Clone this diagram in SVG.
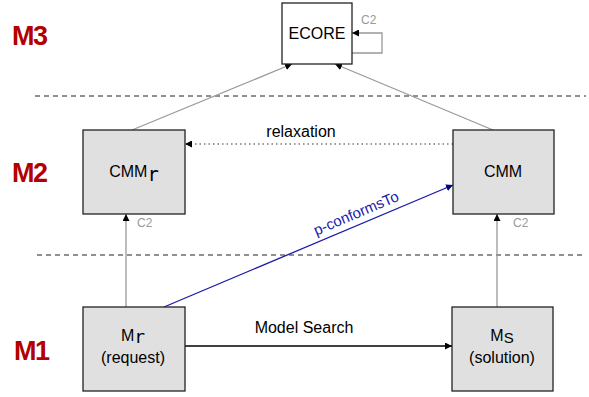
<svg xmlns="http://www.w3.org/2000/svg" width="589" height="397" viewBox="0 0 589 397">
<style>
.box{stroke:#222;stroke-width:1.3}
.t{font-family:"Liberation Sans",Arial,sans-serif;font-size:16px;fill:#000;text-anchor:middle}
.mono{font-family:"DejaVu Sans Mono","Liberation Mono",monospace}
.lvl{font-family:"Liberation Sans",Arial,sans-serif;font-size:27px;font-weight:bold;fill:#b30000;letter-spacing:-1.5px}
.c2{font-family:"Liberation Sans",Arial,sans-serif;font-size:12px;fill:#999}
.gray{stroke:#999;stroke-width:1.3;fill:none}
</style>
<defs>
<marker id="ab" viewBox="0 0 10 10" refX="10" refY="5" markerWidth="7" markerHeight="7" orient="auto" markerUnits="userSpaceOnUse"><path d="M0,0L10,5L0,10z" fill="#000"/></marker>
<marker id="au" viewBox="0 0 10 10" refX="10" refY="5" markerWidth="7" markerHeight="7" orient="auto" markerUnits="userSpaceOnUse"><path d="M0,0L10,5L0,10z" fill="#000080"/></marker>
</defs>
<rect width="589" height="397" fill="#fff"/>
<g id="levels">
<text class="lvl" x="12" y="45">M3</text>
<text class="lvl" x="12" y="182">M2</text>
<text class="lvl" x="14" y="360">M1</text>
<line x1="35" y1="96" x2="586" y2="96" stroke="#222" stroke-dasharray="5,4"/>
<line x1="37" y1="255" x2="586" y2="255" stroke="#222" stroke-dasharray="5,4"/>
</g>
<g id="connectors">
<line class="gray" x1="132" y1="130" x2="292" y2="64" marker-end="url(#ab)"/>
<line class="gray" x1="493" y1="130" x2="335" y2="64" marker-end="url(#ab)"/>
<path class="gray" d="M352,53 H382 V33 H352" marker-end="url(#ab)"/>
<text class="c2" x="361" y="24">C2</text>
<line x1="453" y1="144" x2="185" y2="144" stroke="#333" stroke-width="1.2" stroke-dasharray="1.5,3" marker-end="url(#ab)"/>
<text class="t" x="301" y="137" font-size="15">relaxation</text>
<line class="gray" x1="126" y1="307" x2="126" y2="214" marker-end="url(#ab)"/>
<text class="c2" x="137" y="227">C2</text>
<line class="gray" x1="497" y1="307" x2="497" y2="214" marker-end="url(#ab)"/>
<text class="c2" x="513" y="227">C2</text>
<line x1="164" y1="307" x2="453" y2="185" stroke="#1a1aaa" stroke-width="1.3" marker-end="url(#au)"/>
<text x="0" y="0" transform="translate(358 218) rotate(-23)" font-family="Liberation Sans,Arial,sans-serif" font-size="15" fill="#1a1aaa" text-anchor="middle">p-conformsTo</text>
<line x1="185" y1="346" x2="452" y2="346" stroke="#000" stroke-width="1.3" marker-end="url(#ab)"/>
<text class="t" x="304" y="333" font-size="15">Model Search</text>
</g>
<g id="ecore">
<rect class="box" x="282" y="3" width="70" height="61" fill="#fff"/>
<text class="t" x="317" y="39">ECORE</text>
</g>
<g id="cmmr">
<rect class="box" x="83" y="130" width="102" height="84" fill="#e0e0e0"/>
<text class="t" x="134" y="177">CMM<tspan class="mono" font-size="19" dy="4">r</tspan></text>
</g>
<g id="cmm">
<rect class="box" x="453" y="130" width="101" height="84" fill="#e0e0e0"/>
<text class="t" x="503" y="177">CMM</text>
</g>
<g id="mr">
<rect class="box" x="83" y="307" width="102" height="84" fill="#e0e0e0"/>
<text class="t" x="133" y="341">M<tspan class="mono" font-size="18" dy="2">r</tspan></text>
<text class="t" x="133" y="363">(request)</text>
</g>
<g id="ms">
<rect class="box" x="452" y="307" width="101" height="84" fill="#e0e0e0"/>
<text class="t" x="502" y="341">M<tspan font-size="15" dy="2">S</tspan></text>
<text class="t" x="502" y="363">(solution)</text>
</g>
</svg>
